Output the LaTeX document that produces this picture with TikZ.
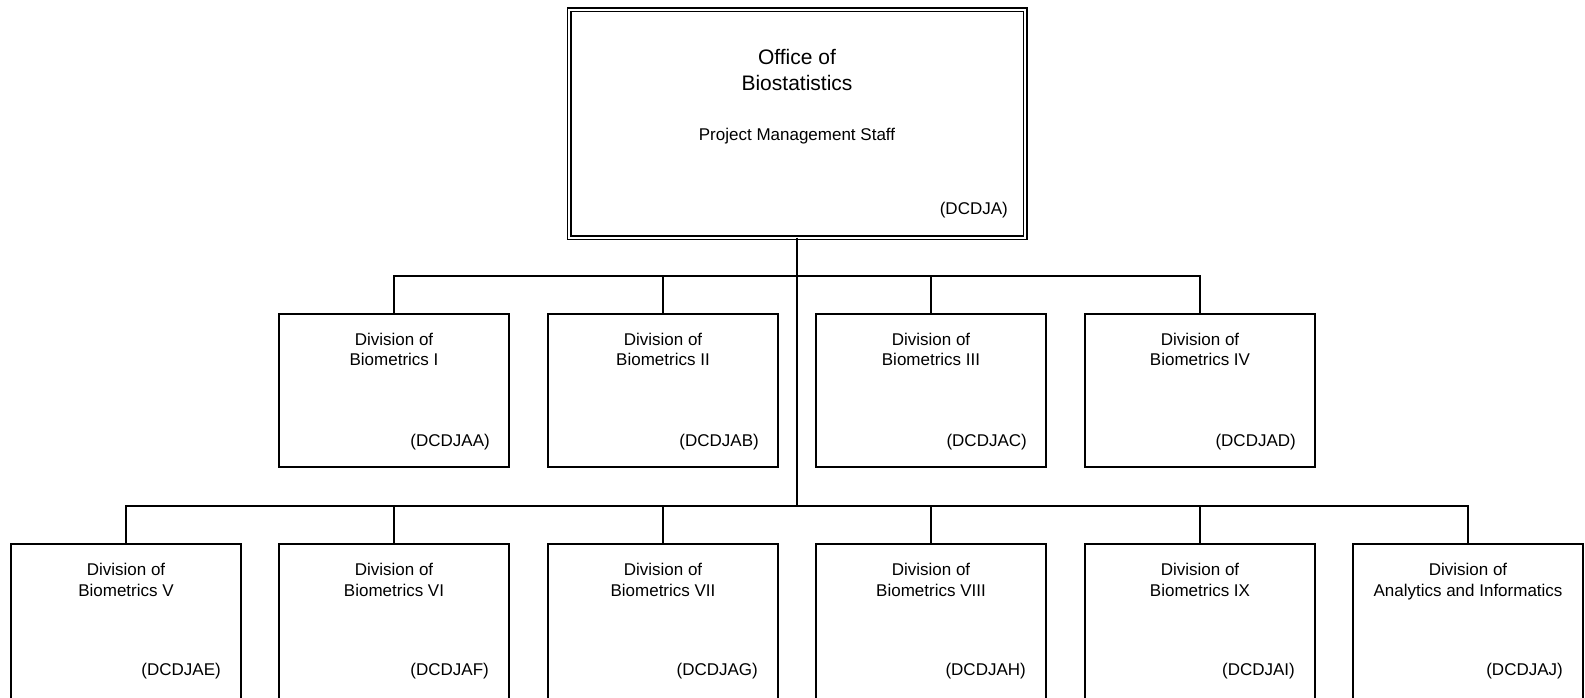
\documentclass[tikz,border=0pt]{standalone}
\usepackage{fontspec}
\setmainfont{Liberation Sans}
\begin{document}
\begin{tikzpicture}[x=1pt,y=-1pt,
  divbox/.style={draw, line width=2pt, minimum width=230pt, minimum height=153pt, inner sep=0pt, outer sep=0pt, anchor=north},
  lowbox/.style={divbox, minimum height=162pt},
  topbox/.style={draw, line width=1.5pt, double, double distance=2pt, minimum width=456pt, minimum height=228pt, inner sep=0pt, outer sep=0pt, anchor=north},
  divtext/.style={inner sep=0pt, font=\fontsize{17}{20}\selectfont},
  titletext/.style={inner sep=0pt, font=\fontsize{21}{25}\selectfont},
  conn/.style={draw, line width=2pt}
]
\useasboundingbox (0,0) rectangle (1585,697);
\fill[white] (0,0) rectangle (1585,697);

% top box
\node[topbox] (office) at (797,9.5) {};
\node[titletext, anchor=base] (office-a) at ([yshift=-54.5pt]office.north) {Office of};
\node[titletext, anchor=base] (office-b) at ([yshift=-80.5pt]office.north) {Biostatistics};
\node[divtext, anchor=base] (office-c) at ([yshift=-130.5pt]office.north) {Project Management Staff};
\node[divtext, anchor=base east] (office-d) at ([xshift=-17pt,yshift=-204.5pt]office.north east) {(DCDJA)};

% first row
\foreach \n/\cx/\nm/\code in {b1/394/Biometrics I/DCDJAA, b2/663/Biometrics II/DCDJAB, b3/931/Biometrics III/DCDJAC, b4/1200/Biometrics IV/DCDJAD}{
  \node[divbox] (\n) at (\cx,314) {};
  \node[divtext, anchor=base] (\n-a) at ([yshift=-31pt]\n.north) {Division of};
  \node[divtext, anchor=base] (\n-b) at ([yshift=-51.5pt]\n.north) {\nm};
  \node[divtext, anchor=base east] (\n-c) at ([xshift=-19pt,yshift=-132.5pt]\n.north east) {(\code)};
}

% second row
\foreach \n/\cx/\nm/\code in {c1/126/Biometrics V/DCDJAE, c2/394/Biometrics VI/DCDJAF, c3/663/Biometrics VII/DCDJAG, c4/931/Biometrics VIII/DCDJAH, c5/1200/Biometrics IX/DCDJAI, c6/1468/Analytics and Informatics/DCDJAJ}{
  \node[lowbox] (\n) at (\cx,544) {};
  \node[divtext, anchor=base] (\n-a) at ([yshift=-31.5pt]\n.north) {Division of};
  \node[divtext, anchor=base] (\n-b) at ([yshift=-52pt]\n.north) {\nm};
  \node[divtext, anchor=base east] (\n-c) at ([xshift=-20pt,yshift=-131.5pt]\n.north east) {(\code)};
}

% connectors
\coordinate (bus1) at (797,276);
\coordinate (bus2) at (797,506);
\draw[conn] (office.south) -- (bus2);
\draw[conn] (b1.north) -- (b1.north |- bus1) -- (b4.north |- bus1) -- (b4.north);
\draw[conn] (b2.north) -- (b2.north |- bus1);
\draw[conn] (b3.north) -- (b3.north |- bus1);
\draw[conn] (c1.north) -- (c1.north |- bus2) -- (c6.north |- bus2) -- (c6.north);
\foreach \n in {c2,c3,c4,c5}{
  \draw[conn] (\n.north) -- (\n.north |- bus2);
}
\end{tikzpicture}
\end{document}
